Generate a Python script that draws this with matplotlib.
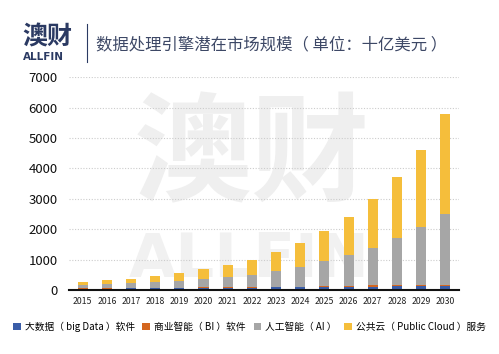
import matplotlib
matplotlib.use("Agg")
import matplotlib.pyplot as plt
from matplotlib.patches import Patch
import numpy as np

plt.rcParams['font.family'] = ['Noto Sans CJK SC', 'DejaVu Sans']

years = [str(y) for y in range(2015, 2031)]

# values in billions USD
big_data = [40, 45, 50, 55, 60, 65, 70, 75, 80, 85, 90, 100, 110, 120, 130, 140]
bi = [15, 15, 15, 15, 15, 20, 20, 20, 20, 25, 25, 25, 40, 30, 30, 35]
ai = [110, 125, 155, 180, 230, 265, 325, 410, 535, 660, 825, 1015, 1240, 1550, 1900, 2335]
cloud = [95, 135, 140, 210, 265, 340, 405, 470, 615, 785, 990, 1260, 1590, 2005, 2555, 3290]

labels = ['大数据（ big Data ）软件', '商业智能（ BI ）软件', '人工智能（ AI ）', '公共云（ Public Cloud ）服务']
colors = ['#3A5DA8', '#D4661F', '#A6A6A6', '#F5BE3B']

fig = plt.figure(figsize=(4.99, 3.54), dpi=100)
ax = fig.add_axes([0.138, 0.181, 0.782, 0.601])

# faint watermark, behind the bars
ax.text(0.505, 0.555, '澳财', fontsize=85, fontweight='bold', color='#efefef',
        ha='center', va='center', zorder=1, transform=fig.transFigure)
ax.text(0.50, 0.265, 'ALLFIN', fontsize=44, fontweight='bold', color='#f1f1f1',
        ha='center', va='center', zorder=1, transform=fig.transFigure,
        family=['DejaVu Sans'])

x = np.arange(len(years))
bottom = np.zeros(len(years))
for vals, c in zip([big_data, bi, ai, cloud], colors):
    ax.bar(x, vals, width=0.42, bottom=bottom, color=c, zorder=3)
    bottom += np.array(vals)

ax.set_xlim(-0.57, len(years) - 0.43)
ax.set_ylim(0, 7000)
ax.set_yticks(range(0, 7001, 1000))
ax.set_xticks(x)
ax.set_xticklabels(years, fontsize=6.3, color='#222222')
ax.tick_params(axis='y', labelsize=9.5, length=0, pad=8, labelcolor='#111111')
ax.tick_params(axis='x', length=0, pad=5)
ax.grid(axis='y', linestyle=(0, (1, 1.5)), color='#cccccc', linewidth=0.8, zorder=0)
for s in ['top', 'right', 'left']:
    ax.spines[s].set_visible(False)
ax.spines['bottom'].set_color('#111111')
ax.spines['bottom'].set_linewidth(1.5)
ax.spines['bottom'].set_zorder(4)

# header
fig.text(0.044, 0.893, '澳财', fontsize=18, fontweight='bold', color='#2b3a63',
         ha='left', va='center')
fig.text(0.045, 0.838, 'ALLFIN', fontsize=7.5, fontweight='bold', color='#2b3a63',
         ha='left', va='center', family=['DejaVu Sans'])
fig.add_artist(plt.Line2D([0.175, 0.175], [0.825, 0.932], color='#2b3a63', linewidth=0.8))
fig.text(0.193, 0.873, '数据处理引擎潜在市场规模（ 单位：十亿美元 ）', fontsize=11.8,
         color='#3d4866', ha='left', va='center')

handles = [Patch(facecolor=c, label=l) for c, l in zip(colors, labels)]
fig.legend(handles=handles, loc='center', bbox_to_anchor=(0.5, 0.077), ncol=4,
           frameon=False, fontsize=7, handlelength=0.8, handleheight=0.8,
           handletextpad=0.4, columnspacing=0.8)

fig.savefig('out.png', dpi=100)
